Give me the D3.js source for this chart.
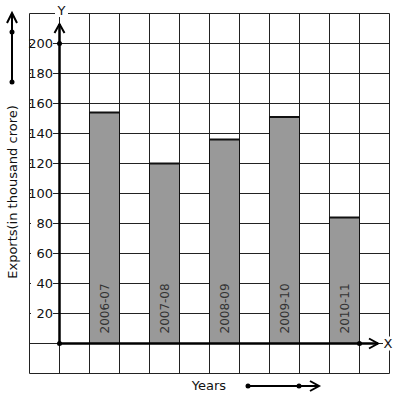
<!DOCTYPE html>
<html>
<head>
<meta charset="utf-8">
<script src="https://cdn.jsdelivr.net/npm/d3@7"></script>
<style>
  body { margin: 0; background: #fff; }
  text { font-family: "DejaVu Sans", sans-serif; }
</style>
</head>
<body>
<div id="chart"></div>
<script>
const years = ["2006-07", "2007-08", "2008-09", "2009-10", "2010-11"];
const exports = [154, 120, 136, 151, 84];
const yTicks = [20, 40, 60, 80, 100, 120, 140, 160, 180, 200];

const svg = d3.select("#chart").append("svg")
  .attr("width", 397)
  .attr("height", 399);

// grid columns are 30px, rows 30px (= 20 units)
const x = d3.scaleLinear().domain([-1, 11]).range([29.5, 389.5]);
const y = d3.scaleLinear().domain([0, 200]).range([343.5, 43.5]);

const grid = svg.append("g").attr("stroke", "#222").attr("stroke-width", 1);
d3.range(-1, 12).forEach(i => {
  grid.append("line")
    .attr("x1", x(i)).attr("x2", x(i))
    .attr("y1", y(220)).attr("y2", y(-20));
});
d3.range(-20, 240, 20).forEach(v => {
  grid.append("line")
    .attr("x1", x(-1)).attr("x2", x(11))
    .attr("y1", y(v)).attr("y2", y(v));
});

// bars
const bars = svg.append("g");
bars.selectAll("rect")
  .data(exports)
  .join("rect")
  .attr("x", (d, i) => x(1 + 2 * i))
  .attr("y", d => y(d))
  .attr("width", x(1) - x(0))
  .attr("height", d => y(0) - y(d))
  .attr("fill", "#999999")
  .attr("stroke", "#111")
  .attr("stroke-width", 1);
bars.selectAll("line.top")
  .data(exports)
  .join("line")
  .attr("class", "top")
  .attr("x1", (d, i) => x(1 + 2 * i))
  .attr("x2", (d, i) => x(2 + 2 * i))
  .attr("y1", d => y(d))
  .attr("y2", d => y(d))
  .attr("stroke", "#111")
  .attr("stroke-width", 2);

// bar labels
bars.selectAll("text")
  .data(years)
  .join("text")
  .attr("transform", (d, i) => `translate(${(x(1 + 2 * i) + x(2 + 2 * i)) / 2 + 4},${y(0) - 10}) rotate(-90)`)
  .attr("font-size", 12)
  .attr("fill", "#333")
  .text(d => d);

// y tick labels with white backing
const ticks = svg.append("g");
ticks.selectAll("rect")
  .data(yTicks)
  .join("rect")
  .attr("x", 31)
  .attr("y", d => y(d) - 6)
  .attr("width", 22)
  .attr("height", 12)
  .attr("fill", "#fff");
ticks.selectAll("text")
  .data(yTicks)
  .join("text")
  .attr("x", 53)
  .attr("y", d => y(d))
  .attr("dy", "0.36em")
  .attr("text-anchor", "end")
  .attr("font-size", 13)
  .attr("fill", "#111")
  .text(d => d);

// axes
const axes = svg.append("g").attr("stroke", "#000").attr("stroke-width", 2.5).attr("fill", "none");
const x0 = x(0), y0 = y(0);
axes.append("line").attr("x1", x0).attr("x2", x0).attr("y1", y0).attr("y2", 24);
axes.append("path").attr("d", `M${x0 - 5},33L${x0},24L${x0 + 5},33`).attr("stroke-width", 2);
axes.append("line").attr("x1", x0).attr("x2", 378).attr("y1", y0).attr("y2", y0);
axes.append("path").attr("d", `M369,${y0 - 5}L378,${y0}L369,${y0 + 5}`).attr("stroke-width", 2);

const dots = [[x0, y(200)], [x0, y0], [x(10), y0]];
svg.selectAll("circle.dot")
  .data(dots)
  .join("circle")
  .attr("class", "dot")
  .attr("cx", d => d[0]).attr("cy", d => d[1]).attr("r", 2.5).attr("fill", "#000");

// axis letters
svg.append("rect").attr("x", 55).attr("y", 3).attr("width", 13).attr("height", 14).attr("fill", "#fff");
svg.append("text").attr("x", x0 + 2).attr("y", 15).attr("text-anchor", "middle")
  .attr("font-size", 13).attr("fill", "#111").text("Y");
svg.append("rect").attr("x", 383).attr("y", y0 - 7).attr("width", 12).attr("height", 14).attr("fill", "#fff");
svg.append("text").attr("x", 388).attr("y", y0).attr("dy", "0.36em").attr("text-anchor", "middle")
  .attr("font-size", 13).attr("fill", "#111").text("X");

// axis titles
svg.append("text")
  .attr("transform", "translate(17,192) rotate(-90)")
  .attr("text-anchor", "middle")
  .attr("font-size", 13)
  .attr("fill", "#111")
  .text("Exports(in thousand crore)");
svg.append("text")
  .attr("x", 209).attr("y", 385).attr("dy", "0.36em")
  .attr("text-anchor", "middle")
  .attr("font-size", 13)
  .attr("fill", "#111")
  .text("Years");

// direction arrows
const deco = svg.append("g").attr("stroke", "#000").attr("stroke-width", 2).attr("fill", "none");
deco.append("line").attr("x1", 12).attr("x2", 12).attr("y1", 82).attr("y2", 14);
deco.append("path").attr("d", "M7,23L12,13L17,23");
deco.append("line").attr("x1", 248).attr("x2", 318).attr("y1", 386).attr("y2", 386);
deco.append("path").attr("d", "M310,381L319,386L310,391");
svg.selectAll("circle.deco")
  .data([[12, 32], [12, 82], [248, 386], [299, 386]])
  .join("circle")
  .attr("class", "deco")
  .attr("cx", d => d[0]).attr("cy", d => d[1]).attr("r", 2.5).attr("fill", "#000");
</script>
</body>
</html>
